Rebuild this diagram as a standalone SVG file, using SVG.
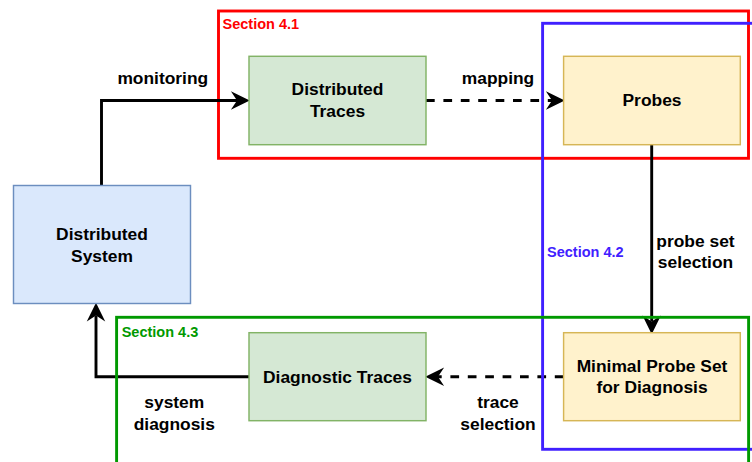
<svg xmlns="http://www.w3.org/2000/svg" width="752" height="462" viewBox="0 0 752 462">
  <defs>
    <style>
      .node-blue { fill: #dae8fc; stroke: #6c8ebf; stroke-width: 1.45; }
      .node-green { fill: #d5e8d4; stroke: #82b366; stroke-width: 1.45; }
      .node-yellow { fill: #fff2cc; stroke: #d6b656; stroke-width: 1.45; }
      .label { font-family: "Liberation Sans", Arial, Helvetica, sans-serif; font-weight: bold; font-size: 17.4px; fill: #000000; text-anchor: middle; }
      .section-label { font-family: "Liberation Sans", Arial, Helvetica, sans-serif; font-weight: bold; font-size: 14.5px; }
      .section { fill: none; stroke-width: 2.9; }
      .edge { fill: none; stroke: #000000; stroke-width: 2.9; marker-end: url(#arrow); }
      .dashed { stroke-dasharray: 8.7 8.7; }
    </style>
    <!-- classic arrowhead; the line ends at the notch, tip lies 11.5 px further on -->
    <marker id="arrow" markerUnits="userSpaceOnUse" markerWidth="20" markerHeight="20" viewBox="-6 -9 18 18" refX="0" refY="0" orient="auto">
      <path d="M11.5,0 L-5.5,-8.3 L0,0 L-5.5,8.3 Z" fill="#000000"/>
    </marker>
  </defs>

  <rect width="752" height="462" fill="#ffffff"/>

  <!-- Section 4.1 frame -->
  <g id="section-4-1">
    <rect class="section" x="218.5" y="11" width="530" height="147.3" stroke="#ff0000"/>
    <text class="section-label" x="222.5" y="28.5" fill="#ff0000">Section 4.1</text>
  </g>

  <!-- connectors -->
  <g id="connectors">
    <path class="edge" d="M101.5,185.5 V100.5 H237"/>
    <path class="edge dashed" d="M426,100.5 H552"/>
    <path class="edge" d="M651.7,144.7 V321.5"/>
    <path class="edge dashed" d="M563.5,376.8 H438"/>
    <path class="edge" d="M249,376.8 H96 V315.5"/>
    <text class="label" x="162.8" y="84">monitoring</text>
    <text class="label" x="498" y="84">mapping</text>
    <text class="label" x="695.5" y="246.7">probe set</text>
    <text class="label" x="695.5" y="268.3">selection</text>
    <text class="label" x="498" y="408.3">trace</text>
    <text class="label" x="498" y="430">selection</text>
    <text class="label" x="174.3" y="408.3">system</text>
    <text class="label" x="174.3" y="429.6">diagnosis</text>
  </g>

  <!-- Section 4.2 frame -->
  <g id="section-4-2">
    <rect class="section" x="542.6" y="23.3" width="230" height="426" stroke="#4020ff"/>
    <text class="section-label" x="547" y="257.3" fill="#4020ff">Section 4.2</text>
  </g>

  <!-- Section 4.3 frame -->
  <g id="section-4-3">
    <rect class="section" x="116.6" y="317.3" width="632" height="170" stroke="#009900"/>
    <text class="section-label" x="121.7" y="336.7" fill="#009900">Section 4.3</text>
  </g>

  <g id="distributed-system">
    <rect class="node-blue" x="13.5" y="185.5" width="177" height="118"/>
    <text class="label" x="102" y="240">Distributed</text>
    <text class="label" x="102" y="261.7">System</text>
  </g>

  <g id="distributed-traces">
    <rect class="node-green" x="249" y="56.3" width="177" height="88.4"/>
    <text class="label" x="337.5" y="95">Distributed</text>
    <text class="label" x="337.5" y="116.7">Traces</text>
  </g>

  <g id="probes">
    <rect class="node-yellow" x="563.6" y="56.3" width="176.7" height="88.4"/>
    <text class="label" x="652" y="106.3">Probes</text>
  </g>

  <g id="minimal-probe-set">
    <rect class="node-yellow" x="563.6" y="332.7" width="176.7" height="88"/>
    <text class="label" x="652" y="371.7">Minimal Probe Set</text>
    <text class="label" x="652" y="393.3">for Diagnosis</text>
  </g>

  <g id="diagnostic-traces">
    <rect class="node-green" x="249" y="332.7" width="177" height="88"/>
    <text class="label" x="337.5" y="382.6">Diagnostic Traces</text>
  </g>
</svg>
